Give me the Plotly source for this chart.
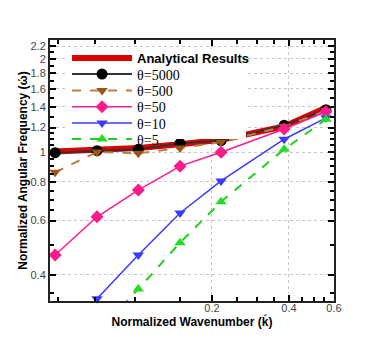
import plotly.graph_objs as go

# normalized wavenumber (k) at each sample
k = [0.0487, 0.071, 0.103, 0.150, 0.217, 0.383, 0.558]

# normalized angular frequency (w) per case
analytical = [1.003, 1.015, 1.03, 1.06, 1.095, 1.21, 1.39]
theta_5000 = [0.995, 1.01, 1.02, 1.067, 1.088, 1.22, 1.37]
theta_500 = [0.86, 1.0, 0.99, 1.03, 1.077, 1.21, 1.36]
theta_50 = [0.464, 0.617, 0.753, 0.90, 0.998, 1.187, 1.35]
theta_10 = [None, 0.335, 0.464, 0.635, 0.806, 1.10, 1.29]
theta_5 = [None, 0.26, 0.36, 0.509, 0.69, 1.02, 1.276]

y_ticks = [0.4, 0.6, 0.8, 1, 1.2, 1.4, 1.6, 1.8, 2, 2.2]
y_minor = [0.35, 0.5, 0.65, 0.7, 0.75, 0.85, 0.9, 0.95, 1.05, 1.1, 1.15, 1.3, 1.5, 1.7, 1.9, 2.1]
x_ticks = [0.2, 0.4, 0.6]
x_minor = [0.05, 0.07, 0.1, 0.15, 0.25, 0.3, 0.35, 0.45, 0.5, 0.55]

# one legend per row so the rows can sit closer than plotly's default spacing
row_y = [0.931, 0.868, 0.805, 0.743, 0.680, 0.619]
legend_x = 0.06

serif = dict(family="Liberation Serif", size=14, color="black")
sans_bold = dict(family="Liberation Sans", size=13, color="black")

fig = go.Figure()

# empty entry whose legend box only gives the white backing behind the rows
blank_line = "\u00a0" * 50
fig.add_trace(go.Scatter(
    x=[None], y=[None], mode="lines", line=dict(color="white", width=0),
    name="<br>".join([blank_line] * 6), legend="legend", hoverinfo="skip",
))

fig.add_trace(go.Scatter(
    x=k, y=analytical, mode="lines",
    line=dict(color="#dd0000", width=6),
    name="<b>Analytical Results</b>", legend="legend2",
))
fig.add_trace(go.Scatter(
    x=k, y=theta_5000, mode="lines+markers",
    line=dict(color="#333333", width=2),
    marker=dict(color="black", size=11, symbol="circle"),
    name="θ=5000", legend="legend3", cliponaxis=False,
))
fig.add_trace(go.Scatter(
    x=k, y=theta_500, mode="lines+markers",
    line=dict(color="#b8804a", width=2, dash="dash"),
    marker=dict(color="#9a5516", size=10, symbol="triangle-down"),
    name="θ=500", legend="legend4", cliponaxis=False,
))
fig.add_trace(go.Scatter(
    x=k, y=theta_50, mode="lines+markers",
    line=dict(color="#ff1a8c", width=1.5),
    marker=dict(color="#ff1a8c", size=10, symbol="diamond"),
    name="θ=50", legend="legend5", cliponaxis=False,
))
fig.add_trace(go.Scatter(
    x=k, y=theta_10, mode="lines+markers",
    line=dict(color="#3a3aff", width=1.5),
    marker=dict(color="#3a3aff", size=10, symbol="triangle-down"),
    name="θ=10", legend="legend6", cliponaxis=False,
))
fig.add_trace(go.Scatter(
    x=k, y=theta_5, mode="lines+markers",
    line=dict(color="#22cc22", width=2, dash="dash"),
    marker=dict(color="#22dd22", size=10, symbol="triangle-up"),
    name="θ=5", legend="legend7",
))

axis_common = dict(
    type="log", automargin=False,
    showline=True, linecolor="#222222", linewidth=2, mirror="ticks",
    ticks="inside", ticklen=6, tickwidth=1.5, tickcolor="black",
    showgrid=True, gridcolor="#c8c8c8", griddash="dot", gridwidth=1,
    zeroline=False,
    tickfont=dict(family="Liberation Sans", size=11, color="#444444"),
)


def row_legend(i, font):
    return dict(
        x=legend_x, y=row_y[i], xanchor="left", yanchor="middle",
        bgcolor="rgba(0,0,0,0)", borderwidth=0,
        font=font, itemwidth=60,
    )


# page is drawn with an 8px body offset, so the figure is 8px smaller
fig.update_layout(
    width=374, height=331,
    margin=dict(l=42, r=48, t=32, b=38),
    plot_bgcolor="white", paper_bgcolor="white",
    showlegend=True,
    legend=dict(
        x=legend_x, y=0.789, xanchor="left", yanchor="middle",
        bgcolor="white", borderwidth=0, itemwidth=30,
        font=dict(family="Liberation Sans", size=9.6, color="white"),
    ),
    legend2=row_legend(0, sans_bold),
    legend3=row_legend(1, serif),
    legend4=row_legend(2, serif),
    legend5=row_legend(3, serif),
    legend6=row_legend(4, serif),
    legend7=row_legend(5, serif),
    xaxis=dict(
        axis_common,
        range=[-1.3325, -0.2218],
        tickvals=x_ticks, ticktext=[str(v) for v in x_ticks],
        ticklabelstandoff=-4,
        minor=dict(tickvals=x_minor, ticks="inside", ticklen=4, tickcolor="black", showgrid=False),
        title=dict(text="<b>Normalized Wavenumber (ḱ)</b>",
                   font=dict(family="Liberation Sans", size=12, color="black"), standoff=0),
    ),
    yaxis=dict(
        axis_common,
        range=[-0.4822, 0.3625],
        tickvals=y_ticks, ticktext=[str(v) for v in y_ticks],
        minor=dict(tickvals=y_minor, ticks="inside", ticklen=4, tickcolor="black", showgrid=False),
        title=dict(text="<b>Normalized Angular Frequency (ώ)</b>",
                   font=dict(family="Liberation Sans", size=12, color="black"), standoff=0),
    ),
)

fig.write_html("out.html")
